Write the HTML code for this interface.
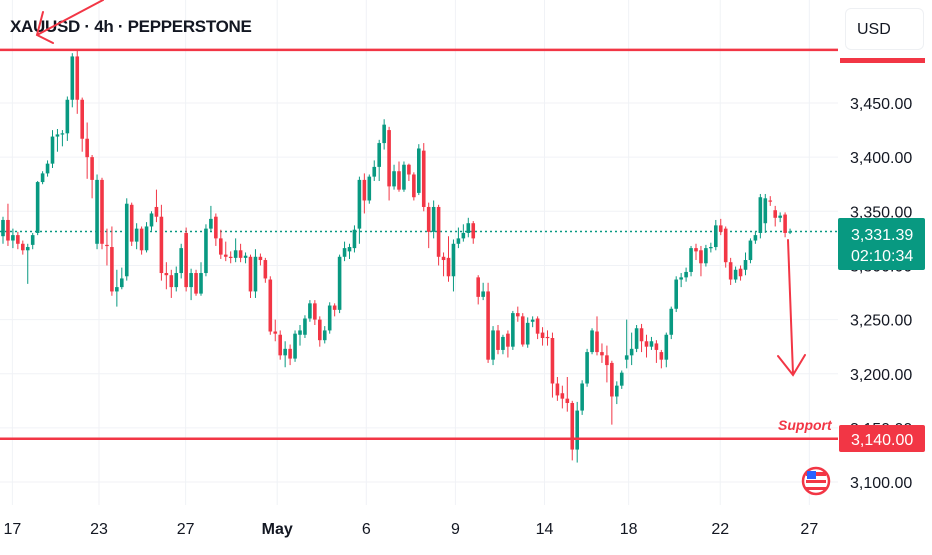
<!DOCTYPE html>
<html><head><meta charset="utf-8">
<style>
html,body{margin:0;padding:0;background:#fff;}
body{width:932px;height:550px;overflow:hidden;font-family:"Liberation Sans",sans-serif;}
svg text{font-family:"Liberation Sans",sans-serif;}
</style></head>
<body>
<svg id="chart" width="932" height="550" viewBox="0 0 932 550" xmlns="http://www.w3.org/2000/svg">
<g id="grid"></g>
<g id="candles"></g>
<g id="overlay"></g>
</svg>
<script>
const opens=[3327,3342,3323,3328,3320,3314,3319,3330,3377,3385,3394,3419,3421,3422,3453,3493,3453,3417,3400,3320,3379,3319,3317,3276,3280,3290,3356,3322,3334,3314,3336,3354,3345,3293,3291,3280,3293,3330,3280,3293,3274,3293,3334,3345,3325,3310,3308,3307,3314,3307,3308,3276,3308,3305,3287,3239,3236,3217,3223,3214,3236,3236,3251,3265,3250,3231,3240,3263,3259,3308,3313,3316,3334,3379,3360,3382,3391,3413,3425,3373,3387,3370,3393,3384,3367,3406,3354,3331,3354,3308,3307,3290,3320,3325,3330,3339,3289,3271,3276,3213,3240,3222,3237,3225,3256,3253,3227,3248,3251,3238,3234,3233,3191,3182,3177,3173,3130,3166,3191,3220,3239,3220,3217,3210,3179,3189,3213,3217,3223,3242,3230,3225,3228,3220,3213,3236,3260,3287,3289,3294,3316,3314,3302,3316,3317,3337,3334,3303,3287,3297,3296,3305,3323,3330,3339,3360,3351,3344,3347,3331];
const closes=[3342,3323,3328,3320,3314,3317,3328,3377,3385,3394,3419,3421,3422,3453,3493,3453,3417,3400,3379,3379,3320,3318,3276,3280,3288,3357,3322,3334,3314,3336,3348,3345,3293,3291,3280,3293,3316,3280,3293,3274,3293,3334,3343,3325,3310,3308,3307,3314,3307,3309,3276,3308,3305,3288,3239,3237,3217,3223,3214,3237,3240,3251,3265,3250,3231,3240,3263,3259,3308,3316,3317,3333,3379,3360,3382,3391,3413,3430,3373,3387,3370,3393,3384,3363,3408,3354,3331,3354,3308,3305,3290,3320,3325,3330,3339,3325,3271,3276,3213,3240,3222,3234,3225,3256,3253,3227,3247,3250,3237,3233,3233,3191,3180,3177,3173,3130,3166,3191,3220,3240,3220,3217,3208,3179,3189,3201,3217,3223,3242,3230,3225,3230,3222,3213,3236,3260,3287,3289,3294,3316,3313,3302,3316,3317,3337,3331,3303,3287,3296,3290,3305,3323,3328,3363,3362,3359,3344,3346,3330,3331.39];
const highs=[3345,3357,3334,3331,3323,3320,3330,3378,3387,3397,3425,3426,3425,3456,3496,3499,3455,3432,3402,3384,3381,3334,3336,3296,3298,3362,3358,3339,3336,3340,3350,3370,3356,3303,3296,3299,3320,3335,3297,3296,3303,3338,3355,3348,3333,3322,3313,3325,3320,3312,3310,3315,3311,3307,3290,3250,3240,3230,3227,3240,3245,3254,3268,3268,3253,3244,3266,3265,3310,3322,3320,3337,3382,3385,3384,3397,3416,3435,3428,3393,3396,3396,3394,3386,3412,3413,3358,3360,3356,3312,3327,3324,3335,3338,3344,3341,3291,3284,3284,3244,3245,3236,3240,3258,3262,3256,3252,3253,3253,3243,3240,3238,3197,3189,3197,3175,3174,3194,3223,3242,3253,3228,3226,3212,3193,3203,3250,3238,3245,3246,3236,3234,3231,3222,3238,3262,3290,3293,3298,3318,3320,3318,3319,3321,3342,3343,3336,3307,3299,3300,3312,3325,3331,3366,3366,3364,3355,3349,3349,3334];
const lows=[3320,3318,3316,3315,3310,3283,3315,3328,3375,3382,3390,3405,3410,3415,3446,3440,3405,3380,3362,3315,3315,3300,3272,3262,3278,3286,3318,3315,3310,3312,3332,3340,3286,3278,3270,3276,3288,3276,3268,3272,3272,3290,3332,3318,3306,3304,3302,3303,3303,3302,3270,3270,3300,3284,3236,3230,3213,3206,3208,3211,3226,3233,3248,3245,3225,3228,3237,3253,3256,3304,3306,3312,3320,3348,3357,3378,3378,3407,3360,3370,3368,3368,3378,3360,3365,3350,3316,3325,3300,3290,3285,3276,3316,3322,3326,3320,3264,3268,3210,3208,3218,3218,3215,3222,3248,3225,3224,3243,3232,3226,3226,3178,3175,3168,3165,3120,3118,3162,3188,3218,3217,3210,3192,3153,3172,3186,3205,3208,3220,3220,3215,3222,3210,3205,3206,3232,3257,3280,3285,3290,3305,3290,3299,3312,3314,3328,3298,3282,3284,3286,3291,3302,3320,3325,3330,3355,3336,3340,3326,3329];
const priceTicks=[3450,3400,3350,3300,3250,3200,3150,3100];
const priceTickLabels=["3,450.00","3,400.00","3,350.00","3,300.00","3,250.00","3,200.00","3,150.00","3,100.00"];
const dateLabels=["17","23","27","May","6","9","14","18","22","27"];
const dateIdx=[2.5,20,37.5,56,74,92,110,127,145.5,163.5];
const resistance=3499, support=3140, lastPrice=3331.39;

const NS="http://www.w3.org/2000/svg";
const PLOT_R=838;
function yOf(p){return 103+(3450-p)*1.083;}
function xOf(i){return 3+i*4.95;}
function mk(tag,attrs,parent){const e=document.createElementNS(NS,tag);for(const k in attrs)e.setAttribute(k,attrs[k]);parent.appendChild(e);return e;}
const grid=document.getElementById('grid'),cg=document.getElementById('candles'),ov=document.getElementById('overlay');
const GREEN="#089981",RED="#f23645";

priceTicks.forEach((p,k)=>{
  const l=mk('line',{x1:0,x2:PLOT_R,y1:yOf(p),y2:yOf(p),stroke:"#f0f2f6","stroke-width":1},grid);
  
  
  const t=mk('text',{x:850,y:yOf(p)+6,"font-size":16,fill:"#131722"},grid);
  t.textContent=priceTickLabels[k];
  
  
});
dateLabels.forEach((d,k)=>{
  const x=xOf(dateIdx[k])-3;
  const l=mk('line',{x1:x,x2:x,y1:0,y2:505,stroke:"#f0f2f6","stroke-width":1},grid);
  
  
  const t=mk('text',{x:x,y:534,"font-size":16,fill:"#131722","text-anchor":"middle","font-weight":d==="May"?"bold":"normal"},grid);
  t.textContent=d;
  
  
});

const lp=mk('line',{x1:0,x2:PLOT_R,y1:yOf(lastPrice),y2:yOf(lastPrice),stroke:GREEN,"stroke-width":1.5,"stroke-dasharray":"2 3"},cg);



for(let i=0;i<opens.length;i++){
  const up=closes[i]>=opens[i];const c=up?GREEN:RED;const x=xOf(i);
  const w=mk('line',{x1:x,x2:x,y1:yOf(highs[i]),y2:yOf(lows[i]),stroke:c,"stroke-width":1},cg);
  
  
  const t=yOf(Math.max(opens[i],closes[i])),b=yOf(Math.min(opens[i],closes[i]));
  const r=mk('rect',{x:x-1.8,y:t,width:3.6,height:Math.max(1.2,b-t),fill:c},cg);
  
  
}

const rl=mk('line',{x1:0,x2:PLOT_R,y1:yOf(resistance),y2:yOf(resistance),stroke:RED,"stroke-width":2.5},ov);


const rlab=mk('rect',{x:840,y:58,width:85,height:5,fill:RED},ov);


const sl=mk('line',{x1:0,x2:PLOT_R,y1:yOf(support),y2:yOf(support),stroke:RED,"stroke-width":2.5},ov);


</script>
<div style="position:absolute;left:10px;top:17px;font-size:17px;font-weight:bold;color:#131722;letter-spacing:-0.3px;">XAUUSD · 4h · PEPPERSTONE</div>
<svg style="position:absolute;left:0;top:0" width="932" height="550">
<g stroke="#f23645" stroke-width="2" fill="none" stroke-linecap="round">
<path d="M103 0 L37 35 M43 12 L37 35 L53 43"/>
<path d="M788 240 L793 374 M778 356 L793 375 L805 355"/>
</g>
<text x="778" y="430" font-size="14" font-style="italic" font-weight="bold" fill="#f23645">Support</text>
<rect x="839" y="425" width="86" height="27" rx="2" fill="#f23645"/>
<text x="851" y="445" font-size="16" fill="#fff">3,140.00</text>
<rect x="838" y="218" width="87" height="52" rx="2" fill="#089981"/>
<text x="851" y="240" font-size="16" fill="#fff">3,331.39</text>
<text x="851" y="261" font-size="16" fill="#fff">02:10:34</text>
<g>
<circle cx="816" cy="481" r="13" fill="#fff" stroke="#f23645" stroke-width="2.5"/>
<rect x="806" y="472" width="20" height="4" fill="#f23645"/>
<rect x="806" y="480" width="20" height="3" fill="#f23645"/>
<rect x="806" y="487" width="20" height="3" fill="#f23645"/>
<rect x="807" y="471" width="9" height="8" fill="#2962ff"/>
</g>
</svg>
<div style="position:absolute;left:845px;top:8px;width:79px;height:42px;border:1px solid #eef0f3;border-radius:6px;background:#fff;box-sizing:border-box;font-size:16px;color:#131722;padding:12px 0 0 11px;">USD</div>
</body></html>
